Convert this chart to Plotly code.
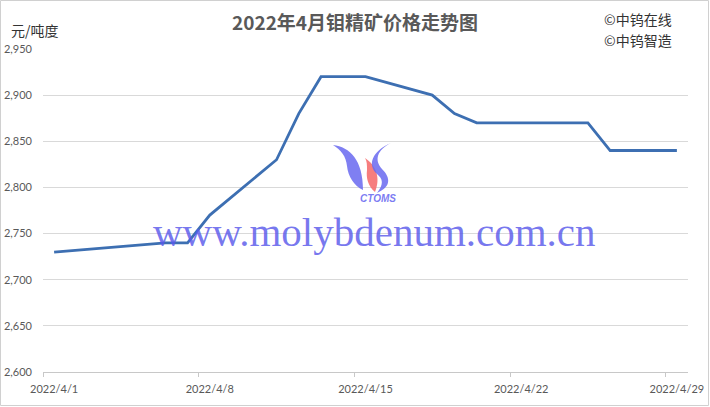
import plotly.graph_objects as go

# ---- data ----
dates = ["2022-04-01", "2022-04-06", "2022-04-07", "2022-04-08", "2022-04-11",
         "2022-04-12", "2022-04-13", "2022-04-14", "2022-04-15", "2022-04-18",
         "2022-04-19", "2022-04-20", "2022-04-21", "2022-04-22", "2022-04-25",
         "2022-04-26", "2022-04-27", "2022-04-28", "2022-04-29"]
prices = [2730, 2740, 2740, 2770, 2830,
          2880, 2920, 2920, 2920, 2900,
          2880, 2870, 2870, 2870, 2870,
          2840, 2840, 2840, 2840]
tick_dates = ["2022-04-01", "2022-04-08", "2022-04-15", "2022-04-22", "2022-04-29"]
tick_labels = ["2022/4/1", "2022/4/8", "2022/4/15", "2022/4/22", "2022/4/29"]

W, H = 710, 407
L, R, T, B = 43, 22, 49, 35
PW, PH = W - L - R, H - T - B

def px(x):
    return (x - L) / PW

def py(y):
    return (H - B - y) / PH

def path(segs):
    out = []
    for s in segs:
        cmd = s[0]
        nums = s[1:]
        pts = []
        for i in range(0, len(nums), 2):
            pts.append(f"{px(nums[i]):.5f},{py(nums[i+1]):.5f}")
        out.append(cmd + " " + " ".join(pts))
    return " ".join(out) + " Z"

fig = go.Figure()
fig.add_trace(go.Scatter(
    x=[d + " 12:00" for d in dates], y=prices, mode="lines",
    line=dict(color="#3d6fb2", width=2.8), hoverinfo="x+y"))

shapes = []
# outer chart border
shapes.append(dict(type="rect", xref="paper", yref="paper",
                   x0=px(0.5), y0=py(405.5), x1=px(708.5), y1=py(0.5),
                   line=dict(color="#d0d0d0", width=1), layer="below"))
# logo swooshes
blue = "rgba(105,105,240,0.85)"
red = "rgba(245,112,112,0.9)"
left = path([("M", 333, 145), ("C", 350, 147, 363, 160, 363, 190),
             ("C", 354, 186, 348, 176, 347, 166), ("C", 346, 156, 341, 150, 333, 145)])
mid = path([("M", 365, 158), ("C", 376, 165, 381, 178, 375, 192),
            ("C", 368, 186, 366, 178, 367, 170), ("C", 367, 165, 367, 161, 365, 158)])
right = path([("M", 391, 143), ("C", 377, 150, 374, 160, 382, 169),
              ("C", 391, 178, 391, 187, 377, 193), ("C", 384, 184, 383, 179, 377, 174),
              ("C", 367, 165, 372, 151, 391, 143)])
for p, c in [(left, blue), (mid, red), (right, blue)]:
    shapes.append(dict(type="path", xref="paper", yref="paper", path=p,
                       fillcolor=c, line=dict(width=0)))

def ann(text, x, y, size, color, family="Noto Sans CJK SC", xanchor="center"):
    return dict(text=text, x=px(x), y=py(y), xref="paper", yref="paper",
                xanchor=xanchor, yanchor="middle", showarrow=False,
                font=dict(family=family, size=size, color=color))

annotations = [
    ann("<b>2022年4月钼精矿价格走势图</b>", 355, 22, 19, "#595959"),
    ann("元/吨度", 9, 30, 14, "#333333", xanchor="left"),
    ann("©中钨在线", 602, 19, 14, "#333333", xanchor="left"),
    ann("©中钨智造", 602, 40, 14, "#333333", xanchor="left"),
    ann("<i><b>CTOMS</b></i>", 378, 198, 10, "rgba(100,100,240,0.85)", family="Liberation Sans"),
    ann("www.molybdenum.com.cn", 374, 232, 41, "rgba(90,90,235,0.82)", family="Liberation Serif"),
]

fig.update_layout(
    width=W, height=H,
    margin=dict(l=L, r=R, t=T, b=B, pad=0, autoexpand=False),
    paper_bgcolor="white", plot_bgcolor="white",
    showlegend=False,
    shapes=shapes, annotations=annotations,
    xaxis=dict(
        type="date", range=["2022-04-01", "2022-04-30"], automargin=False,
        tickvals=[d + " 12:00" for d in tick_dates], ticktext=tick_labels,
        ticks="", showgrid=False, showline=True, linecolor="#c8c8c8", linewidth=1,
        tickfont=dict(family="Lato", size=11, color="#595959"),
        ticklabelstandoff=7,
        minor=dict(ticks="outside", tick0="2022-04-01", dtick=7 * 86400000,
                   ticklen=4, tickcolor="#c8c8c8", showgrid=False),
        zeroline=False, fixedrange=True),
    yaxis=dict(
        range=[2600, 2950], dtick=50, tickformat=",", automargin=False,
        showgrid=True, gridcolor="#d9d9d9", gridwidth=1,
        showline=False, ticks="", zeroline=False,
        tickfont=dict(family="Lato", size=11, color="#595959"),
        ticklabelstandoff=10, fixedrange=True),
)

fig.write_html("out.html", config={"displayModeBar": False},
               post_script="document.body.style.margin='0';document.body.style.overflow='hidden';")
